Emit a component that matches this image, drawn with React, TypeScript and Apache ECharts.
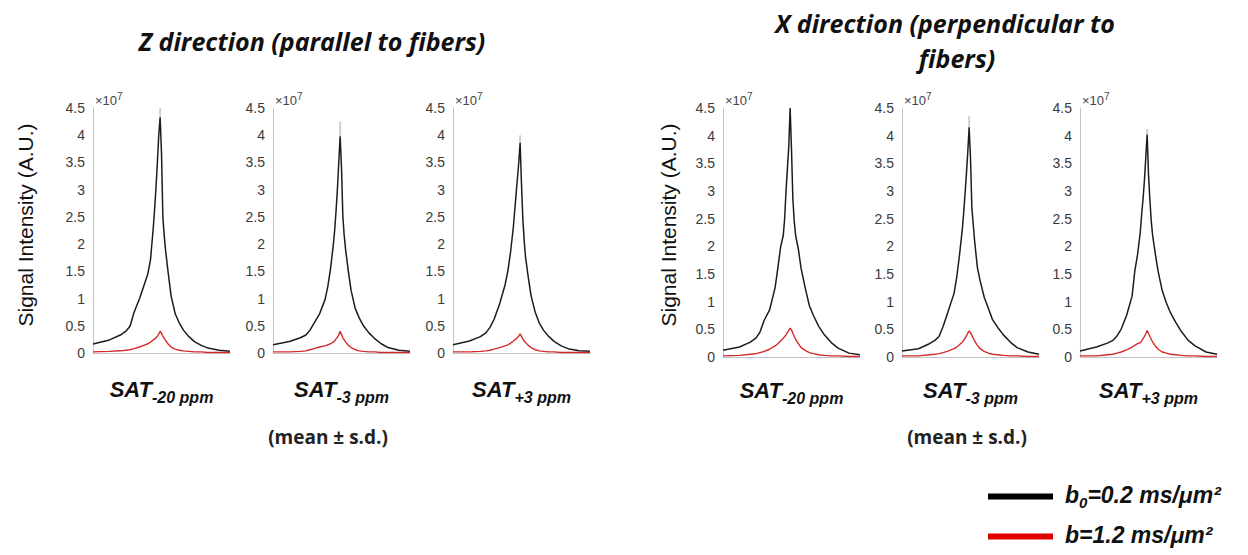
import React, { useEffect, useRef } from "react";
import * as echarts from "echarts";

// shared x grid (arbitrary offset units, unlabeled in the figure)
const X = [0, 12, 20, 24, 27, 30, 34, 38, 40, 42, 44, 45, 46, 47, 48, 49, 50, 51, 52, 53, 55, 57, 60, 63, 66, 70, 74, 79, 84, 92, 100];

// values in units of 10^7
const zNeg20Black = [0.165, 0.24, 0.33, 0.4, 0.49, 0.75, 1.0, 1.3, 1.45, 1.72, 2.3, 2.65, 3.05, 3.5, 4.0, 4.33, 3.68, 2.5, 2.15, 1.88, 1.45, 1.05, 0.72, 0.55, 0.42, 0.3, 0.21, 0.14, 0.09, 0.05, 0.03];
const zNeg20Red = [0.02, 0.03, 0.04, 0.05, 0.06, 0.08, 0.11, 0.15, 0.17, 0.2, 0.24, 0.26, 0.28, 0.31, 0.35, 0.4, 0.36, 0.31, 0.27, 0.23, 0.16, 0.11, 0.07, 0.05, 0.04, 0.03, 0.02, 0.02, 0.01, 0.01, 0.01];
const zNeg3Black = [0.15, 0.21, 0.28, 0.33, 0.42, 0.55, 0.72, 0.98, 1.22, 1.55, 1.98, 2.25, 2.6, 3.0, 3.5, 3.98, 3.4, 2.5, 2.15, 1.9, 1.5, 1.15, 0.82, 0.64, 0.5, 0.37, 0.27, 0.17, 0.1, 0.05, 0.03];
const zNeg3Red = [0.02, 0.02, 0.03, 0.04, 0.06, 0.08, 0.11, 0.13, 0.15, 0.17, 0.2, 0.22, 0.26, 0.29, 0.33, 0.4, 0.34, 0.28, 0.24, 0.2, 0.14, 0.1, 0.06, 0.04, 0.03, 0.02, 0.02, 0.01, 0.01, 0.01, 0.01];
const zPos3Black = [0.15, 0.22, 0.3, 0.37, 0.47, 0.62, 0.9, 1.25, 1.5, 1.85, 2.3, 2.6, 2.9, 3.2, 3.5, 3.86, 3.1, 2.45, 2.05, 1.75, 1.38, 1.05, 0.75, 0.55, 0.42, 0.3, 0.21, 0.13, 0.08, 0.04, 0.03];
const zPos3Red = [0.02, 0.02, 0.03, 0.04, 0.05, 0.07, 0.1, 0.13, 0.15, 0.18, 0.22, 0.24, 0.26, 0.28, 0.31, 0.35, 0.31, 0.26, 0.22, 0.19, 0.14, 0.1, 0.06, 0.04, 0.03, 0.02, 0.02, 0.01, 0.01, 0.01, 0.01];
const xNeg20Black = [0.12, 0.18, 0.27, 0.34, 0.45, 0.66, 0.85, 1.25, 1.6, 1.98, 2.2, 2.5, 3.0, 3.4, 3.8, 4.5, 3.75, 2.85, 2.45, 2.2, 1.95, 1.6, 1.25, 0.93, 0.75, 0.55, 0.4, 0.26, 0.16, 0.07, 0.04];
const xNeg20Red = [0.02, 0.03, 0.05, 0.06, 0.08, 0.1, 0.14, 0.2, 0.24, 0.29, 0.34, 0.37, 0.4, 0.44, 0.48, 0.52, 0.49, 0.43, 0.37, 0.32, 0.24, 0.17, 0.12, 0.08, 0.06, 0.04, 0.03, 0.02, 0.02, 0.01, 0.01];
const xNeg3Black = [0.11, 0.15, 0.24, 0.3, 0.37, 0.55, 0.85, 1.15, 1.45, 1.85, 2.3, 2.6, 2.94, 3.3, 3.7, 4.15, 3.6, 2.7, 2.4, 2.1, 1.62, 1.38, 1.08, 0.88, 0.68, 0.53, 0.4, 0.27, 0.17, 0.09, 0.05];
const xNeg3Red = [0.02, 0.02, 0.04, 0.05, 0.06, 0.08, 0.11, 0.15, 0.18, 0.22, 0.27, 0.3, 0.34, 0.38, 0.43, 0.47, 0.44, 0.39, 0.34, 0.29, 0.21, 0.15, 0.1, 0.07, 0.05, 0.04, 0.03, 0.02, 0.02, 0.01, 0.01];
const xPos3Black = [0.11, 0.18, 0.25, 0.3, 0.38, 0.5, 0.75, 1.1, 1.55, 1.85, 2.25, 2.58, 2.85, 3.18, 3.6, 4.02, 3.3, 2.85, 2.46, 2.2, 1.86, 1.55, 1.2, 0.98, 0.8, 0.62, 0.46, 0.3, 0.2, 0.09, 0.05];
const xPos3Red = [0.02, 0.02, 0.04, 0.05, 0.07, 0.09, 0.13, 0.18, 0.21, 0.24, 0.26, 0.29, 0.33, 0.37, 0.42, 0.48, 0.43, 0.37, 0.32, 0.27, 0.2, 0.14, 0.09, 0.07, 0.05, 0.04, 0.03, 0.02, 0.02, 0.01, 0.01];

// upper end of mean + s.d. at the peak
const sdTop = [4.5, 4.25, 4.0, 4.5, 4.35, 4.12];

const blackSets = [zNeg20Black, zNeg3Black, zPos3Black, xNeg20Black, xNeg3Black, xPos3Black];
const redSets = [zNeg20Red, zNeg3Red, zPos3Red, xNeg20Red, xNeg3Red, xPos3Red];
const subLabels = ["-20 ppm", "-3 ppm", "+3 ppm", "-20 ppm", "-3 ppm", "+3 ppm"];
const yTicks = [0, 0.5, 1, 1.5, 2, 2.5, 3, 3.5, 4, 4.5];

const NAME_B0 = "b0=0.2 ms/μm²";
const NAME_B = "b=1.2 ms/μm²";

const PEAK_INDEX = 15;

export default function App() {
  const ref = useRef<HTMLDivElement>(null);
  useEffect(() => {
    if (!ref.current) return;
    const chart = echarts.init(ref.current, undefined, { renderer: "svg" });

    const gridPos = [
      { left: 93, top: 108, height: 245 },
      { left: 273, top: 108, height: 245 },
      { left: 453, top: 108, height: 245 },
      { left: 723, top: 108, height: 249 },
      { left: 902, top: 108, height: 249 },
      { left: 1080, top: 108, height: 249 },
    ];
    const grids = gridPos.map((g) => ({ left: g.left, top: g.top, width: 137, height: g.height, containLabel: false }));

    const arial = "'Liberation Sans', Arial, sans-serif";
    const calibri = "'Open Sans', Lato, sans-serif";

    const xAxes = gridPos.map((g, i) => ({
      type: "value",
      gridIndex: i,
      min: 0,
      max: 100,
      axisLine: { show: true, onZero: false, lineStyle: { color: "#c4c4c4", width: 1 } },
      axisTick: { show: false },
      axisLabel: { show: false },
      splitLine: { show: false },
      name: "{s|SAT}{b|" + subLabels[i] + "}",
      nameLocation: "middle",
      nameGap: i < 3 ? 25 : 22,
      nameTextStyle: {
        rich: {
          s: { fontSize: 22, fontWeight: "bold", fontStyle: "italic", fontFamily: arial, color: "#111", verticalAlign: "bottom", padding: [0, 0, 5, 0] },
          b: { fontSize: 16, fontWeight: "bold", fontStyle: "italic", fontFamily: arial, color: "#111", verticalAlign: "bottom" },
        },
      },
    }));

    const yAxes = gridPos.map((g, i) => ({
      type: "value",
      gridIndex: i,
      min: 0,
      max: 4.5,
      interval: 0.5,
      axisLine: { show: true, lineStyle: { color: "#c4c4c4", width: 1 } },
      axisTick: { show: false },
      splitLine: { show: false },
      axisLabel: {
        color: "#3a3a3a",
        fontSize: 14,
        fontFamily: arial,
        margin: 8,
        formatter: (v: number) => (yTicks.includes(v) ? String(v) : ""),
      },
      name: "{a|×10}{e|7}",
      nameLocation: "end",
      nameGap: 1,
      nameTextStyle: {
        align: "left",
        verticalAlign: "bottom",
        padding: [0, 0, 0, 2],
        rich: {
          a: { fontSize: 13, fontFamily: arial, color: "#444", verticalAlign: "bottom" },
          e: { fontSize: 10, fontFamily: arial, color: "#444", verticalAlign: "bottom", padding: [0, 0, 6, 0] },
        },
      },
    }));

    const series: any[] = [];
    for (let i = 0; i < 6; i++) {
      const black = blackSets[i];
      const red = redSets[i];
      series.push({
        type: "line",
        name: "sd",
        xAxisIndex: i,
        yAxisIndex: i,
        data: [
          [X[PEAK_INDEX], black[PEAK_INDEX]],
          [X[PEAK_INDEX], sdTop[i]],
        ],
        symbol: "none",
        lineStyle: { color: "#cfcfcf", width: 2 },
        itemStyle: { color: "#cfcfcf" },
        z: 1,
        silent: true,
      });
      series.push({
        type: "line",
        name: NAME_B0,
        xAxisIndex: i,
        yAxisIndex: i,
        data: X.map((x, k) => [x, black[k]]),
        symbol: "none",
        lineStyle: { color: "#1c1c1c", width: 1.5 },
        itemStyle: { color: "#000000" },
        z: 3,
      });
      series.push({
        type: "line",
        name: NAME_B,
        xAxisIndex: i,
        yAxisIndex: i,
        data: X.map((x, k) => [x, red[k]]),
        symbol: "none",
        lineStyle: { color: "#d42a2a", width: 1.4 },
        itemStyle: { color: "#e00000" },
        z: 4,
      });
    }

    const option: any = {
      animation: false,
      backgroundColor: "#ffffff",
      grid: grids,
      xAxis: xAxes,
      yAxis: yAxes,
      series,
      legend: {
        data: [NAME_B0, NAME_B],
        orient: "vertical",
        left: 983,
        top: 478,
        itemWidth: 65,
        itemHeight: 6,
        itemGap: 13,
        icon: "rect",
        selectedMode: false,
        formatter: (name: string) =>
          name === NAME_B0 ? "{t|b}{s|0}{t|=0.2 ms/μm²}" : "{t|b=1.2 ms/μm²}",
        textStyle: {
          padding: [0, 0, 0, 7],
          rich: {
            t: { fontSize: 23, fontWeight: "bold", fontStyle: "italic", fontFamily: arial, color: "#111", verticalAlign: "bottom", padding: [0, 0, 4, 0] },
            s: { fontSize: 15, fontWeight: "bold", fontStyle: "italic", fontFamily: arial, color: "#111", verticalAlign: "bottom" },
          },
        },
      },
      graphic: [
        {
          type: "text",
          x: 312,
          y: 41,
          style: { text: "Z direction (parallel to fibers)", font: `italic bold 25px ${calibri}`, fill: "#111", align: "center", verticalAlign: "middle" },
        },
        {
          type: "text",
          x: 945,
          y: 23,
          style: { text: "X direction (perpendicular to", font: `italic bold 25px ${calibri}`, fill: "#111", align: "center", verticalAlign: "middle" },
        },
        {
          type: "text",
          x: 957,
          y: 58,
          style: { text: "fibers)", font: `italic bold 25px ${calibri}`, fill: "#111", align: "center", verticalAlign: "middle" },
        },
        {
          type: "text",
          x: 25,
          y: 225,
          rotation: Math.PI / 2,
          style: { text: "Signal Intensity (A.U.)", font: `21px ${arial}`, fill: "#111", align: "center", verticalAlign: "middle" },
        },
        {
          type: "text",
          x: 668,
          y: 225,
          rotation: Math.PI / 2,
          style: { text: "Signal Intensity (A.U.)", font: `21px ${arial}`, fill: "#111", align: "center", verticalAlign: "middle" },
        },
        {
          type: "text",
          x: 328,
          y: 437,
          style: { text: "(mean ± s.d.)", font: `bold 19px ${calibri}`, fill: "#222", align: "center", verticalAlign: "middle" },
        },
        {
          type: "text",
          x: 967,
          y: 437,
          style: { text: "(mean ± s.d.)", font: `bold 19px ${calibri}`, fill: "#222", align: "center", verticalAlign: "middle" },
        },
      ],
    };
    chart.setOption(option);
    return () => chart.dispose();
  }, []);
  return (
    <div
      ref={ref}
      style={{ position: "fixed", left: 0, top: 0, width: 1248, height: 555, background: "#fff" }}
    />
  );
}
